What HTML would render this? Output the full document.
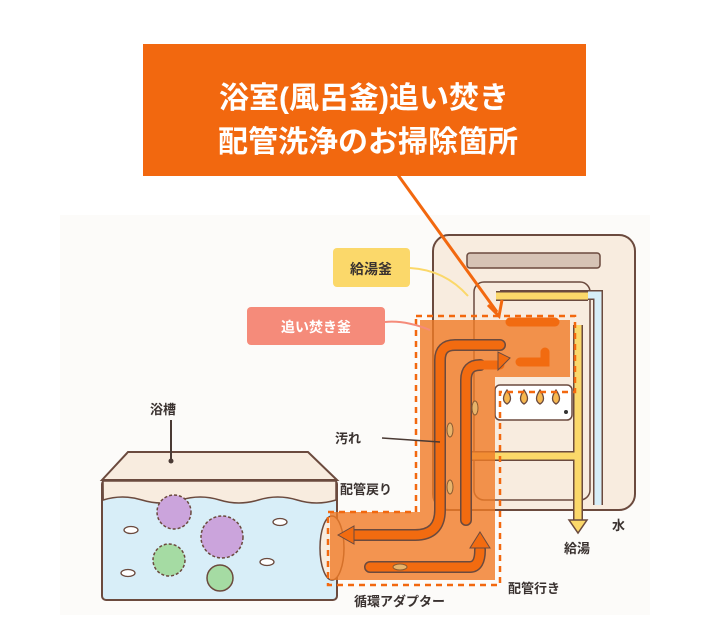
<!DOCTYPE html>
<html><head><meta charset="utf-8"><style>
html,body{margin:0;padding:0;background:#fff;}
svg{display:block;}
text{font-family:"Liberation Sans","Noto Sans CJK JP",sans-serif;}
</style></head><body>
<svg width="718" height="642" viewBox="0 0 718 642" xmlns="http://www.w3.org/2000/svg">
<rect x="0" y="0" width="718" height="642" fill="#fff"/>
<rect x="60" y="215" width="590" height="400" fill="#fcfbf9"/>
<!-- callout -->
<rect x="143" y="44" width="443" height="132" fill="#f2680f"/>
<text x="364" y="108" font-size="30" font-weight="bold" fill="#fff" text-anchor="middle">浴室(風呂釜)追い焚き</text>
<text x="368" y="152" font-size="30" font-weight="bold" fill="#fff" text-anchor="middle">配管洗浄のお掃除箇所</text>

<!-- heater -->
<rect x="433" y="235" width="202" height="275" rx="16" fill="#f8ecdf" stroke="#6b4a3e" stroke-width="2"/>
<rect x="467" y="253" width="133" height="15" rx="3" fill="#d6c3b5" stroke="#6b4a3e" stroke-width="1.5"/>
<rect x="474" y="282" width="116" height="218" rx="10" fill="#f8ecdf" stroke="#6b4a3e" stroke-width="1.5"/>
<path d="M500 295 H598 V505" fill="none" stroke="#6b4a3e" stroke-width="10"/>
<path d="M500 295 H598 V505" fill="none" stroke="#d7eef8" stroke-width="7"/>
<path d="M496 296 H588" stroke="#6b4a3e" stroke-width="10"/>
<path d="M496 296 H588" stroke="#fbd86a" stroke-width="7"/>
<!-- burner -->
<rect x="495" y="385" width="77" height="35" rx="5" fill="#fff" stroke="#6b4a3e" stroke-width="1.5"/>
<g fill="#f6b74f" stroke="#6b4a3e" stroke-width="1.3">
<path d="M507 390 q-7 10 0 14 q7 -4 0 -14z"/><path d="M524 390 q-7 10 0 14 q7 -4 0 -14z"/><path d="M540 390 q-7 10 0 14 q7 -4 0 -14z"/><path d="M556 390 q-7 10 0 14 q7 -4 0 -14z"/>
</g>
<circle cx="566" cy="412" r="2" fill="#333"/>
<path d="M460 456 H578 M578 325 V522" fill="none" stroke="#6b4a3e" stroke-width="10"/>
<path d="M460 456 H578 M578 325 V522" fill="none" stroke="#fbd86a" stroke-width="7"/>
<path d="M569 520 L587 520 L578 533 Z" fill="#fbd86a" stroke="#6b4a3e" stroke-width="1.5"/>

<!-- bathtub -->
<path d="M102 480 L128 452 L308 452 L337 480 Z" fill="#f8ecdf" stroke="#6b4a3e" stroke-width="2"/>
<rect x="102" y="480" width="235" height="120" rx="4" fill="#d8eef8" stroke="#6b4a3e" stroke-width="2"/>
<path d="M103 481 H336 V500 q-19.4 6 -38.8 0 q-19.4 -6 -38.8 0 q-19.4 6 -38.8 0 q-19.4 -6 -38.8 0 q-19.4 6 -38.8 0 q-19.4 -6 -38.8 0 Z" fill="#f8ecdf" stroke="#6b4a3e" stroke-width="1.5"/>
<line x1="171" y1="420" x2="171" y2="460" stroke="#4a3a34" stroke-width="2"/><circle cx="171" cy="461" r="2.5" fill="#4a3a34"/>
<text x="150" y="414" font-size="13" fill="#3a3230" font-weight="bold">浴槽</text>
<g fill="#cba4dc" stroke="#6b4a3e" stroke-width="1.5" stroke-dasharray="3 2">
<circle cx="174" cy="512" r="17"/><circle cx="222" cy="537" r="21"/>
</g>
<circle cx="169" cy="560" r="16" fill="#a5dba3" stroke="#6b4a3e" stroke-width="1.5" stroke-dasharray="3 2"/>
<circle cx="220" cy="578" r="13" fill="#a5dba3" stroke="#6b4a3e" stroke-width="1.5"/>
<g fill="#fff" stroke="#6b4a3e" stroke-width="1.3">
<ellipse cx="131" cy="530" rx="7" ry="3.5"/><ellipse cx="128" cy="573" rx="7" ry="3.5"/><ellipse cx="280" cy="522" rx="7" ry="3.5"/><ellipse cx="267" cy="562" rx="7" ry="3.5"/>
</g>
<ellipse cx="332" cy="548" rx="12" ry="32" fill="#f8ecdf" stroke="#6b4a3e" stroke-width="1.5"/>

<!-- orange area -->
<path d="M420 320 H570 V377 H495 V580 H330 V512 H420 Z" fill="#f07a25" opacity="0.8"/>
<g fill="none" stroke="#6b4a3e" stroke-width="12" stroke-linecap="round">
<path d="M440 380 V360 Q440 345 455 345 H500"/><path d="M440 380 V510 Q440 535 415 535 H350"/>
<path d="M466 520 V380 Q466 365 480 365"/><path d="M370 567 H470 Q480 567 480 550"/>
</g>
<g fill="none" stroke="#f26b10" stroke-width="9" stroke-linecap="round">
<path d="M440 380 V360 Q440 345 455 345 H500"/><path d="M440 380 V510 Q440 535 415 535 H350"/>
<path d="M466 520 V380 Q466 365 480 365 H500"/><path d="M370 567 H470 Q480 567 480 550"/>
<path d="M510 322 H555"/><path d="M520 362 H545 V352"/>
</g>
<path d="M338 535 L354 526 L354 544 Z" fill="#f26b10" stroke="#6b4a3e"/>
<path d="M480 532 L490 548 L470 548 Z" fill="#f26b10" stroke="#6b4a3e"/>
<path d="M510 358 L498 352 L498 370 Z" fill="#f26b10" stroke="#6b4a3e"/>
<g fill="#e8b36a" stroke="#8a5a30" stroke-width="1"><ellipse cx="450" cy="430" rx="3" ry="7"/><ellipse cx="450" cy="487" rx="3" ry="7"/><ellipse cx="475" cy="408" rx="3" ry="7"/><ellipse cx="400" cy="567" rx="7" ry="3"/></g>
<path d="M416 316 H575 V392 H500 V585 H328 V512 H416 Z" fill="none" stroke="#f2680f" stroke-width="2.5" stroke-dasharray="6 5"/>

<!-- pointer line -->
<line x1="398" y1="175" x2="497" y2="312" stroke="#f2680f" stroke-width="3"/>
<path d="M488 305 L499 316 L502 300" fill="none" stroke="#f2680f" stroke-width="3"/>

<!-- labels -->
<rect x="333" y="248" width="77" height="39" rx="4" fill="#fbd86a"/>
<text x="371" y="274" font-size="14" font-weight="bold" fill="#3a3230" text-anchor="middle">給湯釜</text>
<path d="M410 268 Q445 270 468 296" fill="none" stroke="#fbd86a" stroke-width="2"/>
<rect x="247" y="307" width="138" height="38" rx="4" fill="#f58b7a"/>
<text x="316" y="332" font-size="14" font-weight="bold" fill="#fff" text-anchor="middle">追い焚き釜</text>
<path d="M385 322 Q405 320 430 330" fill="none" stroke="#f58b7a" stroke-width="2"/>
<g font-size="13" font-weight="bold" fill="#3a3230">
<text x="335" y="443">汚れ</text>
<text x="340" y="494">配管戻り</text>
<text x="612" y="530">水</text>
<text x="564" y="553">給湯</text>
<text x="508" y="593">配管行き</text>
<text x="354" y="606">循環アダプター</text>
</g>
<line x1="382" y1="438" x2="440" y2="442" stroke="#4a3a34" stroke-width="1.5"/>
</svg>
</body></html>
